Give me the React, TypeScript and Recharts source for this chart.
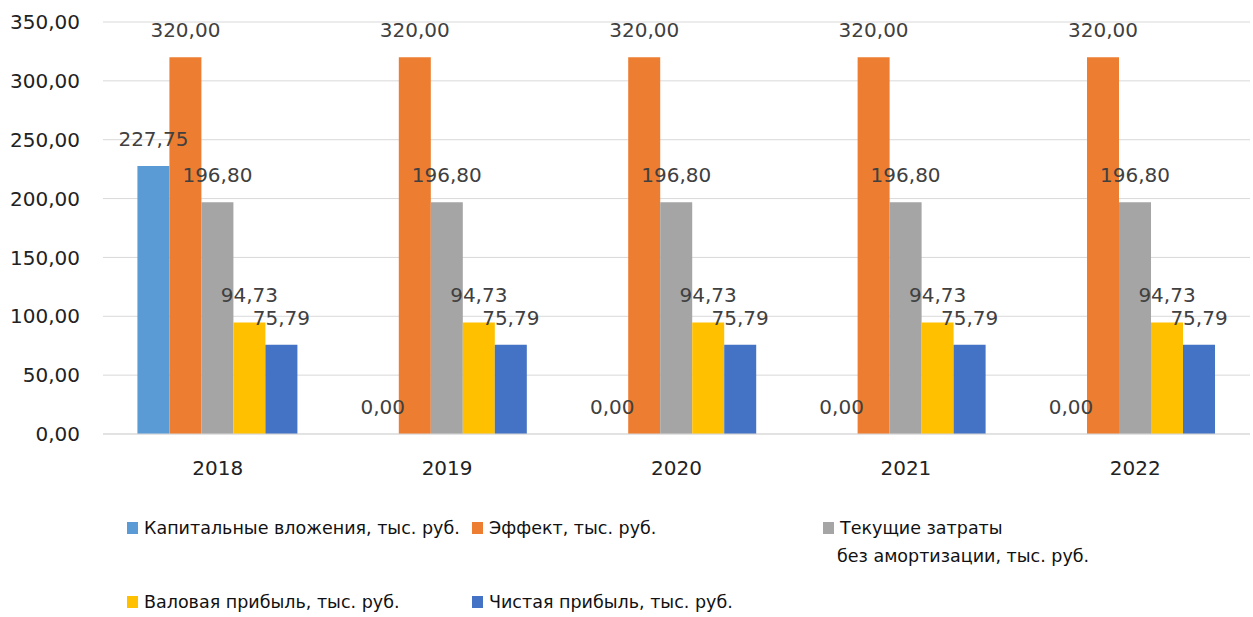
import { Bar, BarChart, CartesianGrid, LabelList, XAxis, YAxis } from "recharts";

const YEARS = ["2018", "2019", "2020", "2021", "2022"];
const CAPEX = [227.75, 0, 0, 0, 0];
const EFFECT = [320, 320, 320, 320, 320];
const COSTS = [196.8, 196.8, 196.8, 196.8, 196.8];
const GROSS = [94.73, 94.73, 94.73, 94.73, 94.73];
const NET = [75.79, 75.79, 75.79, 75.79, 75.79];
const Y_TICKS = [0, 50, 100, 150, 200, 250, 300, 350];

const SERIES = [
  { key: "capex", name: "Капитальные вложения, тыс. руб.", color: "#5B9BD5", values: CAPEX },
  { key: "effect", name: "Эффект, тыс. руб.", color: "#ED7D31", values: EFFECT },
  { key: "costs", name: "Текущие затраты\nбез амортизации, тыс. руб.", color: "#A5A5A5", values: COSTS },
  { key: "gross", name: "Валовая прибыль, тыс. руб.", color: "#FFC000", values: GROSS },
  { key: "net", name: "Чистая прибыль, тыс. руб.", color: "#4472C4", values: NET },
];

const data = YEARS.map((year, i) => {
  const row: Record<string, string | number> = { year };
  SERIES.forEach((s) => {
    row[s.key] = s.values[i];
  });
  return row;
});

const FONT = "'DejaVu Sans', sans-serif";
const fmt = (v: number) => Number(v).toFixed(2).replace(".", ",");

// value label above a bar; drawn by hand so zero-height bars still get one
const renderValueLabel = (props: any) => {
  const { x, y, width, value } = props;
  return (
    <text
      x={Number(x) + Number(width) / 2}
      y={Number(y) - 20}
      textAnchor="middle"
      fontFamily={FONT}
      fontSize={20}
      fill="#404040"
    >
      {fmt(Number(value ?? 0))}
    </text>
  );
};

// legend slots: [left, top] of each swatch row
const LEGEND_POS: Array<[number, number]> = [
  [127, 528],
  [472, 528],
  [823, 528],
  [127, 602],
  [472, 602],
];

function LegendBlock() {
  return (
    <>
      {SERIES.map((s, i) => {
        const [x, y] = LEGEND_POS[i];
        const lines = s.name.split("\n");
        return (
          <div key={s.key} style={{ position: "absolute", left: x, top: y - 10 }}>
            <span
              style={{
                position: "absolute",
                left: 0,
                top: 4,
                width: 11,
                height: 12,
                background: s.color,
              }}
            />
            <div
              style={{
                position: "absolute",
                left: 17,
                top: 0,
                whiteSpace: "nowrap",
                fontFamily: FONT,
                fontSize: 17.5,
                lineHeight: "28px",
                marginTop: -4,
                color: "#111",
              }}
            >
              {lines.map((l, j) => (
                <div key={j} style={{ marginLeft: j > 0 ? -3 : 0 }}>
                  {l}
                </div>
              ))}
            </div>
          </div>
        );
      })}
    </>
  );
}

export default function App() {
  return (
    <div
      style={{
        position: "absolute",
        left: 0,
        top: 0,
        width: 1253,
        height: 617,
        background: "#fff",
      }}
    >
      <BarChart
        width={1253}
        height={617}
        data={data}
        margin={{ top: 22, right: 3, left: 0, bottom: 123 }}
        barCategoryGap="15%"
        barGap={0}
      >
        <CartesianGrid stroke="#D9D9D9" vertical={false} />
        <XAxis
          dataKey="year"
          height={60}
          axisLine={{ stroke: "#D9D9D9" }}
          tickLine={false}
          tickSize={0}
          tickMargin={27}
          tick={{ fontFamily: FONT, fontSize: 20, fill: "#222" }}
        />
        <YAxis
          width={103}
          domain={[0, 350]}
          ticks={Y_TICKS}
          axisLine={false}
          tickLine={false}
          tickSize={0}
          tickMargin={23}
          tickFormatter={fmt}
          tick={{ fontFamily: FONT, fontSize: 20, fill: "#222" }}
        />
        {SERIES.map((s) => (
          <Bar
            key={s.key}
            dataKey={s.key}
            fill={s.color}
            minPointSize={0.01}
            isAnimationActive={false}
          >
            <LabelList dataKey={s.key} content={renderValueLabel} />
          </Bar>
        ))}
      </BarChart>
      <LegendBlock />
    </div>
  );
}
